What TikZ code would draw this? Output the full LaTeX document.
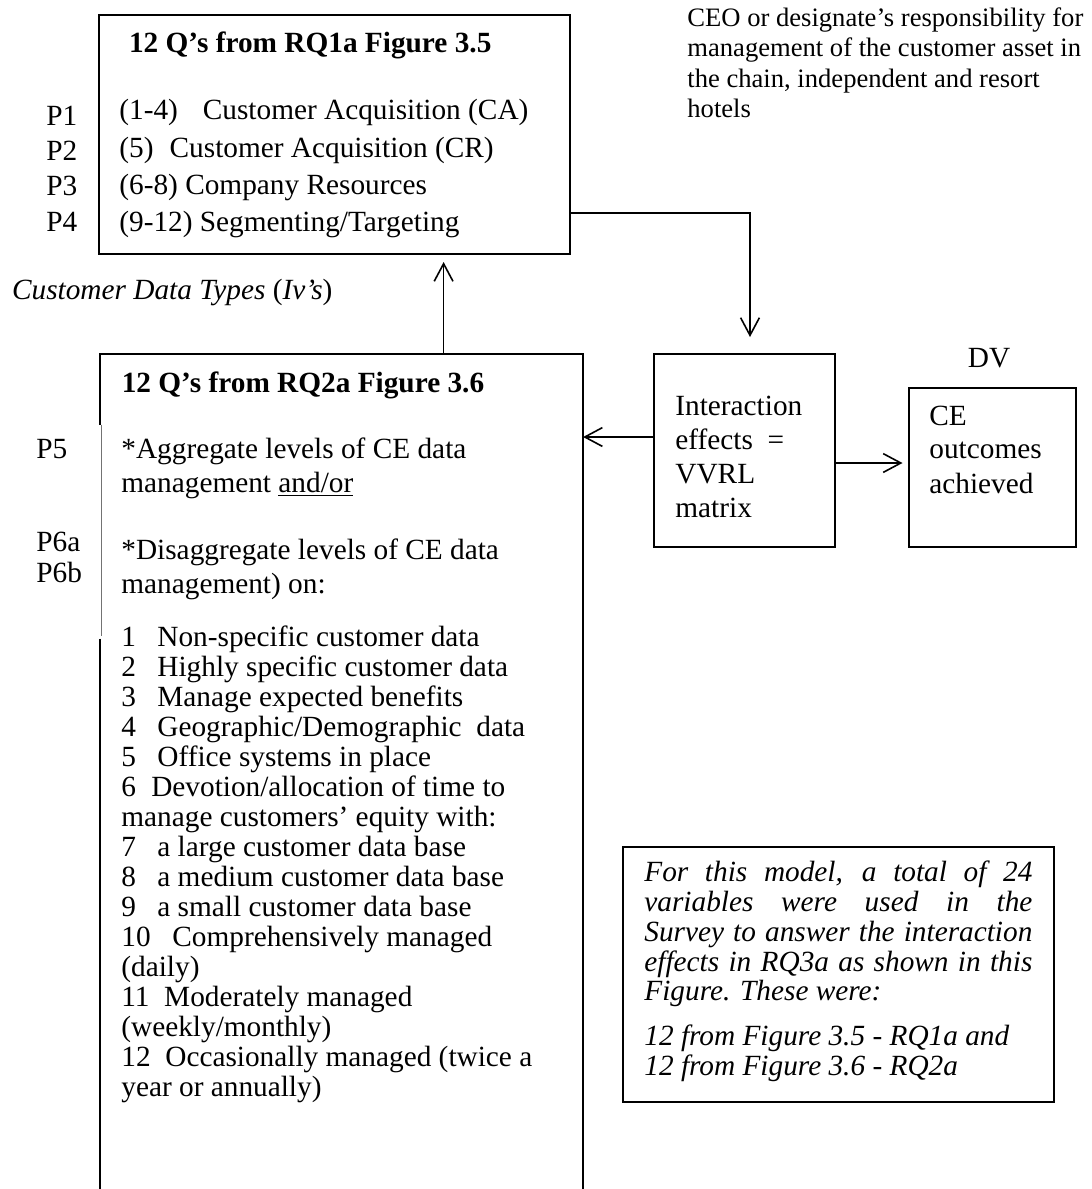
\documentclass[tikz,border=0pt]{standalone}
\usepackage{fontspec}
\setmainfont{Liberation Serif}
\usetikzlibrary{arrows.meta,fit,calc}
\newcommand\bodysize{\fontsize{14.65}{15}\selectfont}
\newcommand\ceosize{\fontsize{13.3}{15}\selectfont}
\begin{document}
\begin{tikzpicture}[x=0.5pt,y=-0.5pt,
  box/.style={draw, line width=1pt, inner sep=0pt},
  frame/.style={inner sep=0pt},
  txt/.style={anchor=base west, inner sep=0pt, font=\bodysize},
  ceo/.style={anchor=base west, inner sep=0pt, font=\ceosize},
  conn/.style={line width=0.8pt, line join=miter,
    -{Straight Barb[length=8.8pt,width=9.4pt,line width=0.8pt]}},
  edge/.style={line width=1pt}]
\useasboundingbox[fill=white] (0,0) rectangle (1092,1189);

% ---------- top box: RQ1a ----------
\node[box, fit={(99,15) (570,254)}] (q1) {};
\node[txt, font=\bodysize\bfseries] (q1title) at (128.6,52) {12 Q’s from RQ1a Figure 3.5};
\node[txt] (q1r1) at (119,119) {(1-4)\hspace{0.85em}Customer Acquisition (CA)};
\node[txt] (q1r2) at (119,157) {(5)\hspace{0.55em}Customer Acquisition (CR)};
\node[txt] (q1r3) at (119,194) {(6-8) Company Resources};
\node[txt] (q1r4) at (119,231) {(9-12) Segmenting/Targeting};
\node[txt] (p1) at (46,125) {P1};
\node[txt] (p2) at (46,160) {P2};
\node[txt] (p3) at (46,195) {P3};
\node[txt] (p4) at (46,231) {P4};

% ---------- upper right note ----------
\node[ceo] (ceo1) at (687,26) {CEO or designate’s responsibility for};
\node[ceo] (ceo2) at (687,56.5) {management of the customer asset in};
\node[ceo] (ceo3) at (687,87) {the chain, independent and resort};
\node[ceo] (ceo4) at (687,117.5) {hotels};

% ---------- label between boxes ----------
\node[txt] (ivlab) at (11.7,299) {\itshape Customer Data Types \upshape(\itshape Iv’s\upshape)};

% ---------- lower box: RQ2a (open at the bottom) ----------
\node[frame, fit={(100,354) (582.7,1189)}] (q2) {};
\draw[edge] ($(q2.north west)+(0,71)$) -- (q2.north west) -- (q2.north east) -- (q2.south east);
\draw[line width=0.5pt, black!55] ($(q2.north west)+(1.7,71)$) -- ($(q2.north west)+(1.7,282)$);
\draw[edge] ($(q2.north west)+(0,285)$) -- (q2.south west);

\node[txt, font=\bodysize\bfseries] (q2title) at (121.4,392) {12 Q’s from RQ2a Figure 3.6};
\node[txt] (p5) at (36,458) {P5};
\node[txt] (p6a) at (36,551) {P6a};
\node[txt] (p6b) at (36,582) {P6b};
\node[txt] (agg1) at (121,458) {*Aggregate levels of CE data};
\node[txt] (agg2) at (121,492) {management \underline{and/or}};
\node[txt] (dis1) at (121,559) {*Disaggregate levels of CE data};
\node[txt] (dis2) at (121,593) {management) on:};

\node[txt] (l1)  at (121,646)  {1\hspace{0.73em}Non-specific customer data};
\node[txt] (l2)  at (121,676)  {2\hspace{0.73em}Highly specific customer data};
\node[txt] (l3)  at (121,706)  {3\hspace{0.73em}Manage expected benefits};
\node[txt] (l4)  at (121,736)  {4\hspace{0.73em}Geographic/Demographic\hspace{0.5em}data};
\node[txt] (l5)  at (121,766)  {5\hspace{0.73em}Office systems in place};
\node[txt] (l6)  at (121,796)  {6\hspace{0.52em}Devotion/allocation of time to};
\node[txt] (l6b) at (121,826)  {manage customers’ equity with:};
\node[txt] (l7)  at (121,856)  {7\hspace{0.73em}a large customer data base};
\node[txt] (l8)  at (121,886)  {8\hspace{0.73em}a medium customer data base};
\node[txt] (l9)  at (121,916)  {9\hspace{0.73em}a small customer data base};
\node[txt] (l10) at (121,946)  {10\hspace{0.74em}Comprehensively managed};
\node[txt] (l10b) at (121,976) {(daily)};
\node[txt] (l11) at (121,1006) {11\hspace{0.5em}Moderately managed};
\node[txt] (l11b) at (121,1036) {(weekly/monthly)};
\node[txt] (l12) at (121,1066) {12\hspace{0.5em}Occasionally managed (twice a};
\node[txt] (l12b) at (121,1096) {year or annually)};

% ---------- interaction box ----------
\node[box, fit={(654,354) (835,547)}] (ix) {};
\node[txt] (ix1) at (675,415) {Interaction};
\node[txt] (ix2) at (675,449) {effects~~=};
\node[txt] (ix3) at (675,483) {VVRL};
\node[txt] (ix4) at (675,517) {matrix};

% ---------- outcome box ----------
\node[txt, anchor=base] (dv) at (989,367) {DV};
\node[box, fit={(909,388) (1076,547)}] (ce) {};
\node[txt] (ce1) at (929,425) {CE};
\node[txt] (ce2) at (929,458) {outcomes};
\node[txt] (ce3) at (929,493) {achieved};

% ---------- explanatory note ----------
\node[box, fit={(623,847) (1054,1102)}] (nb) {};
\node[txt, font=\bodysize\itshape] (n1) at (644,881) {\makebox[194pt][s]{For this model, a total of 24}};
\node[txt, font=\bodysize\itshape] (n2) at (644,911) {\makebox[194pt][s]{variables were used in the}};
\node[txt, font=\bodysize\itshape] (n3) at (644,941) {\makebox[194pt][s]{Survey to answer the interaction}};
\node[txt, font=\bodysize\itshape] (n4) at (644,971) {\makebox[194pt][s]{effects in RQ3a as shown in this}};
\node[txt, font=\bodysize\itshape] (n5) at (644,1000) {Figure. These were:};
\node[txt, font=\bodysize\itshape] (n6) at (644,1045) {12 from Figure 3.5 - RQ1a and};
\node[txt, font=\bodysize\itshape] (n7) at (644,1075) {12 from Figure 3.6 - RQ2a};

% ---------- connectors ----------
\coordinate (upx) at ($(q2.north west)+(344,0)$);
\draw[conn, shorten >=3.5pt] (upx) -- (upx |- q1.south);
\coordinate (rt) at ($(q1.south east)+(0,-42)$);
\coordinate (dn) at ($(ix.north)+(5.5,0)$);
\draw[conn, shorten >=8pt] (rt) -- (rt -| dn) -- (dn);
\coordinate (lf) at ($(ix.north west)+(0,84)$);
\draw[conn] (lf) -- (lf -| q2.east);
\coordinate (rg) at ($(ix.north east)+(0,110)$);
\draw[conn, shorten >=2.75pt] (rg) -- (rg -| ce.west);
\end{tikzpicture}
\end{document}
